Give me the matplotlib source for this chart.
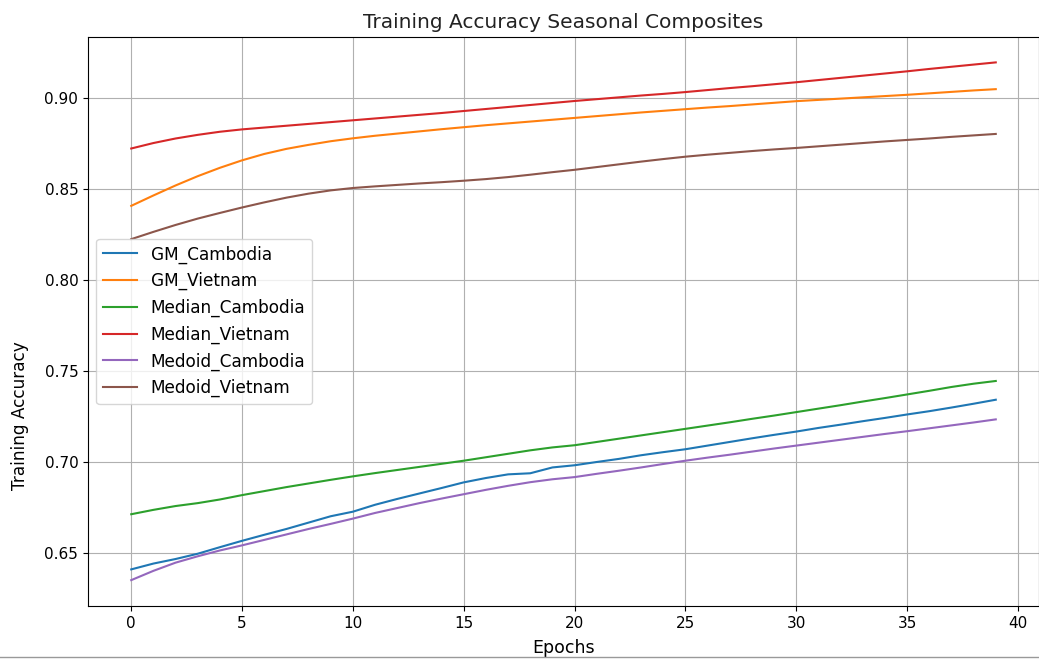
import matplotlib
matplotlib.use("Agg")
from matplotlib import pyplot as plt
from matplotlib.lines import Line2D

epochs = list(range(40))

gm_cambodia = [0.6408, 0.6440, 0.6465, 0.6494, 0.6530, 0.6565, 0.6598, 0.6630, 0.6665, 0.6700,
               0.6725, 0.6763, 0.6795, 0.6825, 0.6855, 0.6886, 0.6910, 0.6930, 0.6936, 0.6968,
               0.6980, 0.6998, 0.7015, 0.7035, 0.7052, 0.7068, 0.7088, 0.7108, 0.7128, 0.7147,
               0.7165, 0.7185, 0.7203, 0.7222, 0.7240, 0.7259, 0.7277, 0.7297, 0.7318, 0.7340]
gm_vietnam = [0.8405, 0.8462, 0.8517, 0.8568, 0.8614, 0.8655, 0.8690, 0.8718, 0.8740, 0.8760,
              0.8776, 0.8790, 0.8802, 0.8814, 0.8826, 0.8837, 0.8848, 0.8858, 0.8868, 0.8878,
              0.8888, 0.8898, 0.8908, 0.8918, 0.8927, 0.8936, 0.8945, 0.8953, 0.8962, 0.8971,
              0.8980, 0.8987, 0.8994, 0.9001, 0.9008, 0.9015, 0.9023, 0.9031, 0.9039, 0.9046]
median_cambodia = [0.6711, 0.6735, 0.6756, 0.6772, 0.6792, 0.6816, 0.6838, 0.6860, 0.6880, 0.6900,
                   0.6919, 0.6937, 0.6954, 0.6971, 0.6988, 0.7005, 0.7024, 0.7043, 0.7062, 0.7078,
                   0.7090, 0.7108, 0.7126, 0.7144, 0.7162, 0.7180, 0.7198, 0.7216, 0.7235, 0.7253,
                   0.7272, 0.7291, 0.7310, 0.7330, 0.7349, 0.7369, 0.7389, 0.7410, 0.7428, 0.7443]
median_vietnam = [0.8720, 0.8750, 0.8775, 0.8795, 0.8812, 0.8825, 0.8835, 0.8845, 0.8855, 0.8865,
                  0.8875, 0.8885, 0.8895, 0.8905, 0.8915, 0.8926, 0.8937, 0.8948, 0.8959, 0.8970,
                  0.8981, 0.8991, 0.9001, 0.9011, 0.9020, 0.9030, 0.9041, 0.9052, 0.9062, 0.9073,
                  0.9084, 0.9096, 0.9108, 0.9120, 0.9132, 0.9144, 0.9157, 0.9169, 0.9181, 0.9193]
medoid_cambodia = [0.6349, 0.6400, 0.6445, 0.6480, 0.6512, 0.6540, 0.6570, 0.6600, 0.6630, 0.6658,
                   0.6687, 0.6718, 0.6745, 0.6772, 0.6797, 0.6821, 0.6845, 0.6867, 0.6887, 0.6903,
                   0.6915, 0.6933, 0.6950, 0.6968, 0.6987, 0.7005, 0.7022, 0.7038, 0.7055, 0.7072,
                   0.7088, 0.7104, 0.7120, 0.7136, 0.7152, 0.7167, 0.7183, 0.7199, 0.7215, 0.7232]
medoid_vietnam = [0.8222, 0.8262, 0.8300, 0.8335, 0.8366, 0.8396, 0.8424, 0.8450, 0.8472, 0.8490,
                  0.8503, 0.8512, 0.8520, 0.8528, 0.8535, 0.8543, 0.8552, 0.8563, 0.8576, 0.8590,
                  0.8603, 0.8618, 0.8633, 0.8648, 0.8662, 0.8675, 0.8686, 0.8696, 0.8706, 0.8715,
                  0.8723, 0.8732, 0.8741, 0.8750, 0.8759, 0.8767, 0.8775, 0.8784, 0.8792, 0.8800]

series = {
    'GM_Cambodia': gm_cambodia,
    'GM_Vietnam': gm_vietnam,
    'Median_Cambodia': median_cambodia,
    'Median_Vietnam': median_vietnam,
    'Medoid_Cambodia': medoid_cambodia,
    'Medoid_Vietnam': medoid_vietnam,
}

plt.rcParams['font.size'] = 11

fig = plt.figure(figsize=(10.39, 6.59), dpi=100)
ax = fig.add_axes([0.0847, 0.0804, 0.9153, 0.8642])

for name, vals in series.items():
    ax.plot(epochs, vals, linewidth=1.5, label=name)

ax.set_title('Training Accuracy Seasonal Composites', fontsize=14.5, color='#222222')
ax.set_xlabel('Epochs', fontsize=12.5, labelpad=6)
ax.set_ylabel('Training Accuracy', fontsize=12.2)
ax.yaxis.set_label_coords(-0.062, 0.335)
ax.grid(True)
ax.legend(loc='center left', fontsize=12.2)

# thin separator along the bottom edge
fig.add_artist(Line2D([0, 1], [0.003, 0.003], transform=fig.transFigure,
                      color='#999999', linewidth=1))

fig.savefig('out.png', dpi=100)
